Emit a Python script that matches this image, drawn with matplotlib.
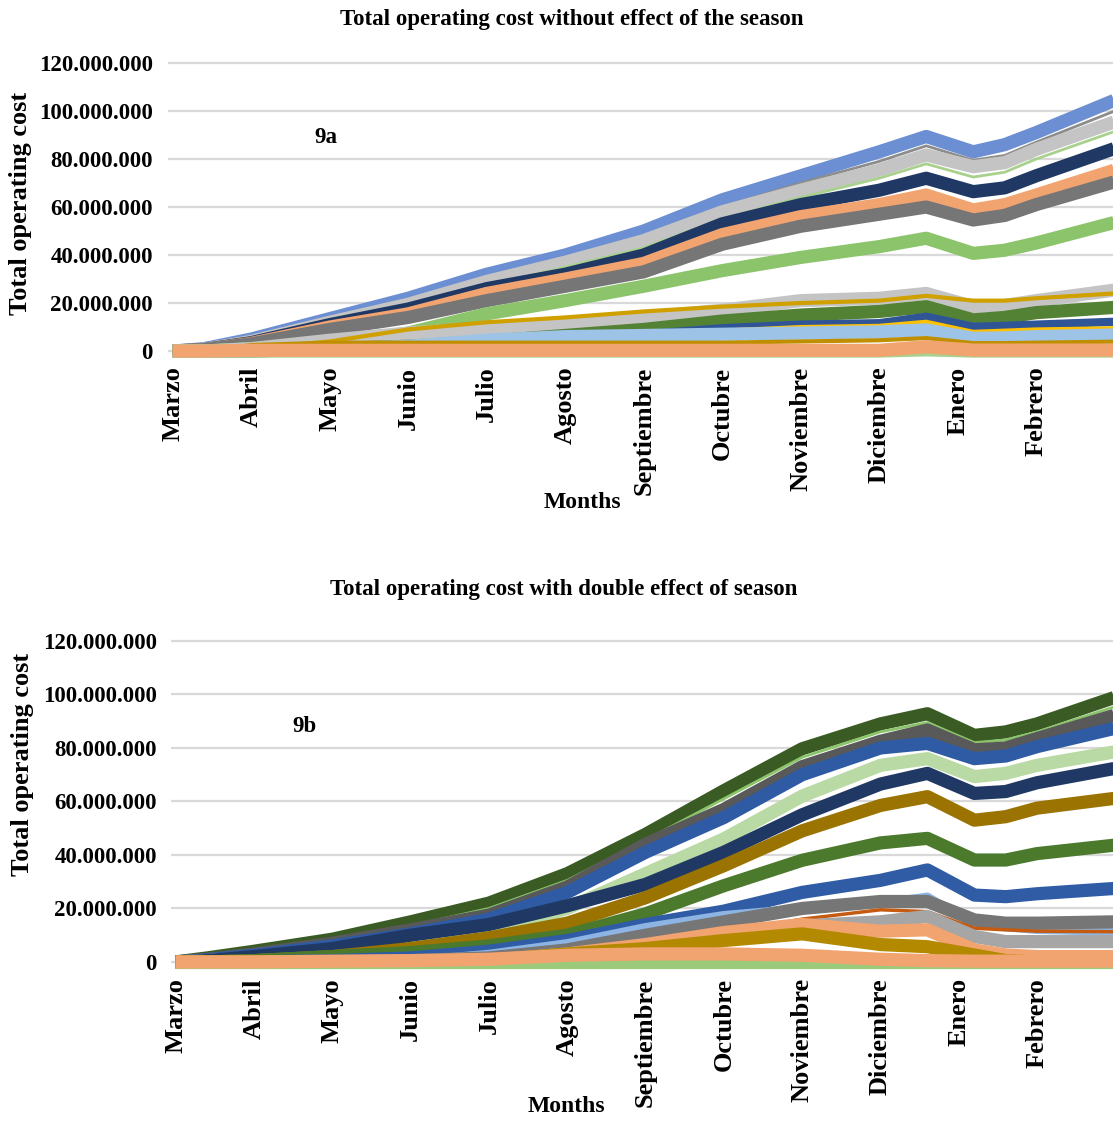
import numpy as np
import matplotlib
matplotlib.use("Agg")
from matplotlib import pyplot as plt
from matplotlib.ticker import FuncFormatter

plt.rcParams['font.family'] = ['Liberation Serif', 'DejaVu Serif']
plt.rcParams['font.weight'] = 'bold'

months = ["Marzo", "Abril", "Mayo", "Junio", "Julio", "Agosto", "Septiembre",
          "Octubre", "Noviembre", "Diciembre", "Enero", "Febrero"]

# sample points along the year (months from start of March)
month_pts = [0, 0.4, 1, 2, 3, 4, 5, 6, 7, 8, 9, 9.6, 10.2, 10.6, 11, 12]

# ---- 9a: without effect of the season (millions) ----
a_lightblue  = [0, 1, 5, 13.5, 22, 32, 40, 50, 63, 73, 83, 89.4, 83, 86, 91, 104.5]
a_gray_thin  = [0, 0.8, 4.5, 12.5, 20.5, 30.5, 38, 47.5, 60, 70, 79, 85.5, 79.5, 81.5, 87, 100]
a_lightgray  = [0, 0.7, 4, 12, 19.5, 29, 37, 46, 58, 67, 75.4, 81.7, 76.8, 78.5, 84, 95.5]
a_green_thin = [0, 0.6, 3.8, 11, 18, 27, 35, 43, 55, 64, 72, 78, 72.5, 74.5, 80, 91.5]
a_navy       = [0, 0.6, 3.5, 11, 17.5, 26, 32, 40, 53, 61, 67, 72, 66.4, 68, 73, 84.4]
a_orange     = [0, 0.5, 3.2, 10, 15.5, 24, 30, 36.5, 48.5, 56, 61, 65, 58.8, 61, 65, 75.4]
a_darkgray   = [0, 0.5, 3, 9, 14, 21, 27, 33, 44.5, 52, 57, 60, 54.6, 56.5, 61, 70.5]
a_green      = [0, 0, 1, 3, 7.5, 15.5, 21, 27, 33.5, 39, 43.5, 47, 40.7, 42, 45, 53.6]
a_lightgray2 = [0, 0, 1, 4.5, 7.5, 9.5, 11.5, 14, 17, 21, 22, 24, 18.5, 19, 21, 25.4]
a_gold       = [0, 0, 1, 4, 9, 12, 14, 16.5, 18.5, 20, 21, 23, 21, 21, 22, 24]
a_darkgreen  = [0, 0, 0, 1, 2, 4, 6.5, 9, 12.5, 15, 16.5, 18.5, 13, 14, 16, 18.2]
a_navyblue   = [0, 0, 0, 1, 2, 3, 5, 7, 9.5, 11, 11.6, 14.3, 10.1, 10.5, 11, 12.2]
a_yellow     = [0, 0, 0, 1, 2, 3, 5, 6.5, 8.5, 10, 10.5, 12.2, 8, 8.5, 9, 9.5]
a_skyblue    = [0, 0, 0, 1, 2, 4.5, 6, 6.5, 7, 7.5, 8, 8.8, 5.3, 5.5, 6, 6.7]
a_darkgold   = [0, 0, 2.5, 3.5, 3.5, 3.5, 3.5, 3.5, 3.5, 4, 4.5, 5.4, 3.3, 3.3, 3.5, 3.9]
a_green_low  = [0, 0, 0, 0, 0, 0, 0, 0, 0, 0, 0, 0.5, 0, 0, 0, 0]
a_orange_low = [0, 0, 0.3, 0.3, 0.3, 0.3, 0.3, 0.3, 0.3, 0.3, 0.3, 1.8, 0.4, 0.4, 0.4, 0.4]

a_series = [a_lightblue, a_gray_thin, a_lightgray, a_green_thin, a_navy, a_orange,
            a_darkgray, a_green, a_lightgray2, a_gold, a_darkgreen, a_navyblue,
            a_yellow, a_skyblue, a_darkgold, a_green_low, a_orange_low]
a_colors = ["#6B8FD2", "#8C8C8C", "#C4C4C4", "#A9D18E", "#203864", "#F2A470",
            "#767676", "#8CC46B", "#C4C4C4", "#CFA000", "#548235", "#2F5597",
            "#FFC000", "#9DC3E6", "#BF8F00", "#A9D18E", "#F2A470"]
a_widths = [9.5, 2, 9.5, 2, 9.5, 9.5, 9.5, 9.5, 9.5, 3, 9.5, 6, 3, 9.5, 3, 9.5, 9.5]

# ---- 9b: with double effect of season (millions) ----
b_darkgreen  = [0, 1.5, 4, 8.5, 15, 22, 33, 47.7, 64, 79.7, 89, 92.8, 84.7, 86, 89, 99]
b_green_thin = [0, 1.2, 3.5, 7.5, 13.5, 20, 30.5, 45.5, 61, 76.5, 86, 89.5, 82, 83, 86, 95.5]
b_darkgray   = [0, 1, 3, 7, 12, 17.5, 28, 44, 57, 73, 82.5, 86.7, 79.3, 80, 83.5, 92.3]
b_blue       = [0, 0.8, 2.5, 6, 10.5, 16, 26, 41, 54, 70, 80, 81.7, 76, 77, 80.5, 87.4]
b_lightgreen = [0, 0.5, 1.5, 4, 7.5, 11, 20, 33, 46, 62, 73.5, 76, 69.3, 70.5, 73.5, 78.6]
b_navy       = [0, 0.5, 2, 5, 10, 14, 21, 29, 41, 55, 66.5, 70.5, 63, 63.7, 67, 72.4]
b_browngold  = [0, 0, 0.5, 2, 5, 9, 14.5, 24, 36, 49, 58.5, 61.8, 53, 54.3, 57.5, 61.2]
b_green      = [0, 0, 0.5, 2, 3.5, 6, 10, 18, 28.5, 38, 44.5, 46.2, 38.1, 38.1, 40.5, 43.7]
b_blue_low   = [0, 0, 0, 0.5, 1.5, 4, 8, 14, 19, 26, 30.5, 34.4, 25, 24.4, 25.5, 27.5]
b_skyblue    = [0, 0, 0, 0, 0.5, 3, 7, 13, 17.5, 20, 22, 24.4, 14, 13, 12, 11.3]
b_gray       = [0, 0, 0, 0, 0.5, 1.5, 4.5, 10, 15, 20, 22.6, 22.6, 15.7, 14.5, 14.5, 15]
b_rust       = [0, 0, 0, 0, 0, 0.5, 2, 6, 11, 16, 19.5, 18.8, 12.6, 12, 11.5, 11.3]
b_lightgray  = [0, 0, 0, 0, 0, 0.5, 2, 5, 10, 13.5, 15, 17, 9.5, 7.6, 7.6, 7.6]
b_orange_mid = [0, 0, 0, 0, 0, 0.5, 3, 6.5, 11, 14, 11.5, 12, 4.5, 2.6, 2, 2]
b_gold       = [0, 0, 0, 0, 0, 0.5, 3, 5, 8, 10.5, 6.5, 5.7, 2.6, 0.5, 0, 0]
b_green_low  = [0, 0, 0, 0, 0, 0, 0, 0, 0, 0, 0, 0, 0, 0, 0, 0]
b_orange_low = [0, 0, 0, 0.3, 0.5, 1, 2.5, 3, 3, 2.5, 1, 0.5, 0.3, 0.3, 0.3, 0.3]

b_series = [b_darkgreen, b_green_thin, b_darkgray, b_blue, b_lightgreen, b_navy,
            b_browngold, b_green, b_blue_low, b_skyblue, b_gray, b_rust,
            b_lightgray, b_orange_mid, b_gold, b_green_low, b_orange_low]
b_colors = ["#3A5C24", "#8CC46B", "#595959", "#2E5BA3", "#B9DAA4", "#203864",
            "#9A7300", "#4B7A2D", "#2F5CA5", "#8DB4E2", "#767676", "#C55A11",
            "#A6A6A6", "#F2A470", "#B38900", "#9BCB7A", "#F2A470"]
b_widths = [9.5, 2, 9.5, 9.5, 9.5, 9.5, 9.5, 9.5, 9.5, 6, 9.5, 2.5, 9.5, 9.5, 9.5, 9.5, 9.5]

yticks = [0, 20, 40, 60, 80, 100, 120]


def fmt(v, pos):
    return f"{int(round(v * 1e6)):,}".replace(",", ".")


fig = plt.figure(figsize=(11.13, 11.22), dpi=100)


def draw_panel(ax, series, colors, widths, pad):
    for vals, c, w in zip(series, colors, widths):
        ax.plot(month_pts, vals, color=c, lw=w, solid_joinstyle='round',
                solid_capstyle='butt', zorder=3)
    ax.set_ylim(-3, 122)
    ax.set_yticks(yticks)
    ax.yaxis.set_major_formatter(FuncFormatter(fmt))
    ax.set_xticks(range(12))
    ax.set_xticklabels(months, rotation=90, fontsize=19, fontweight='bold')
    ax.grid(axis='y', color='#D9D9D9', lw=1.6, zorder=0)
    ax.set_axisbelow(True)
    for s in ax.spines.values():
        s.set_visible(False)
    ax.tick_params(axis='both', length=0)
    ax.tick_params(axis='y', labelsize=16.5, pad=pad)
    ax.tick_params(axis='x', pad=6)


ax1 = fig.add_axes([168 / 1113, 0.6807, 1 - 168 / 1113, 0.2674])
draw_panel(ax1, a_series, a_colors, a_widths, 10.8)
ax1.set_xlim(-0.06, 11.98)
ax1.text(1.95, 89, "9a", fontsize=16.5, fontweight='bold', ha='center', va='center')

ax2 = fig.add_axes([171 / 1113, 0.1355, 1 - 171 / 1113, 0.298])
draw_panel(ax2, b_series, b_colors, b_widths, 10.2)
ax2.set_xlim(-0.06, 11.97)
ax2.text(1.65, 88, "9b", fontsize=16.5, fontweight='bold', ha='center', va='center')

fig.text(21 / 1113, 1 - 203 / 1122, "Total operating cost", rotation=90,
         fontsize=19, fontweight='bold', ha='center', va='center')
fig.text(23 / 1113, 1 - 764 / 1122, "Total operating cost", rotation=90,
         fontsize=19, fontweight='bold', ha='center', va='center')
fig.text(572 / 1113, 1 - 20 / 1122, "Total operating cost without effect of the season",
         fontsize=16.5, fontweight='bold', ha='center', va='center')
fig.text(564 / 1113, 1 - 590 / 1122, "Total operating cost with double effect of season",
         fontsize=16.5, fontweight='bold', ha='center', va='center')
fig.text(582 / 1113, 1 - 502 / 1122, "Months", fontsize=17, fontweight='bold',
         ha='center', va='center')
fig.text(566 / 1113, 1 - 1107 / 1122, "Months", fontsize=17, fontweight='bold',
         ha='center', va='center')

fig.savefig("out.png", dpi=100)
